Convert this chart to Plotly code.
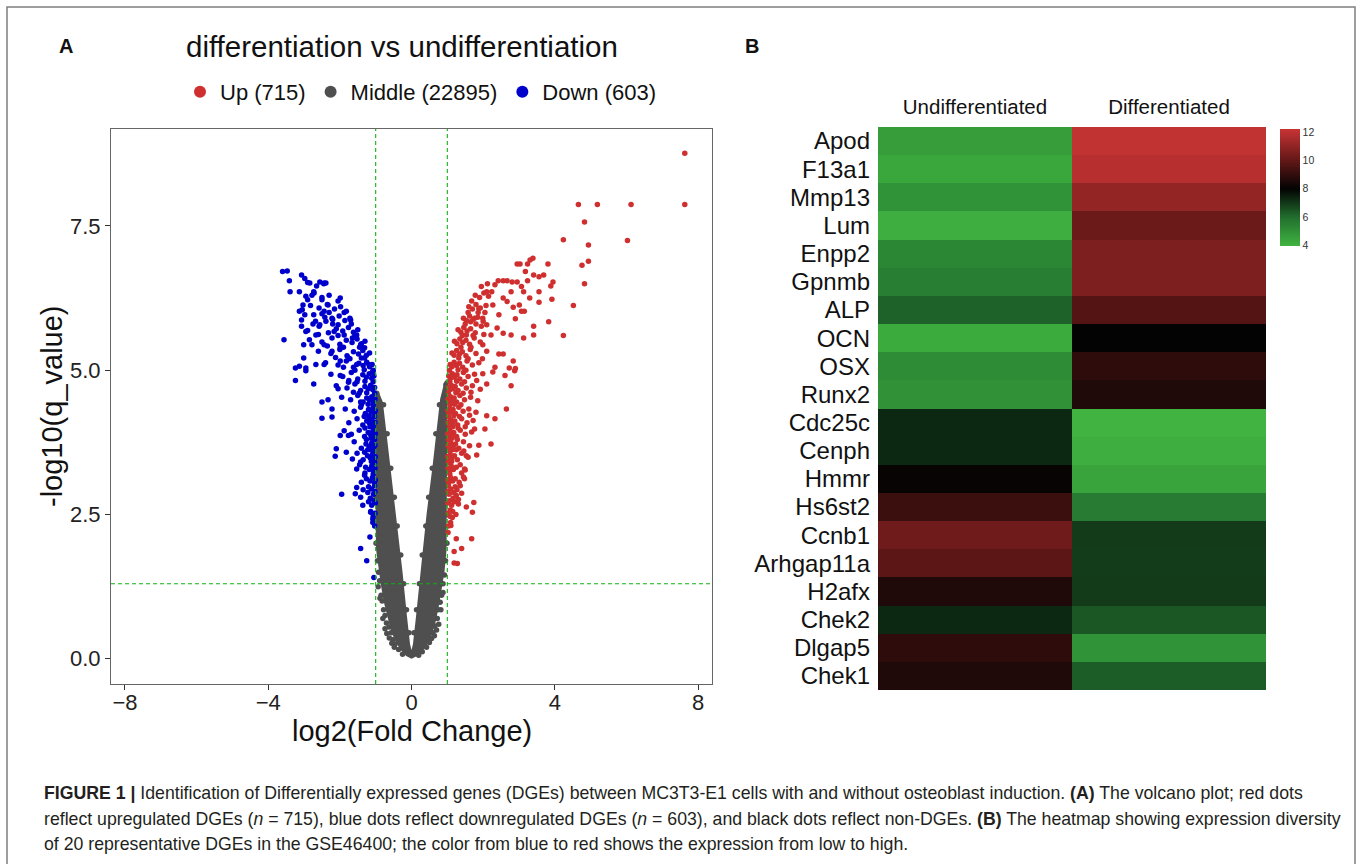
import plotly.graph_objects as go

W, H = 1357, 864
FONT = "Liberation Sans, Arial, Helvetica, sans-serif"

# ---------------- volcano data ----------------
UP_POINTS = [
    (7.63, 8.76), (7.63, 7.87), (6.13, 7.87), (5.19, 7.87), (4.66, 7.87), (4.83, 7.57), (4.24, 7.26),
    (6.03, 7.25), (4.94, 7.17), (4.76, 6.82), (4.94, 6.89), (4.83, 6.50), (4.52, 6.12), (4.24, 5.60),
    (2.95, 6.84), (3.03, 6.84), (3.24, 6.84), (3.31, 6.91), (3.39, 6.94), (3.81, 6.84), (3.18, 6.71),
    (3.41, 6.65), (3.56, 6.62), (3.69, 6.65), (2.42, 6.55), (2.56, 6.55), (2.67, 6.55), (2.81, 6.53),
    (2.95, 6.53), (3.24, 6.55), (3.95, 6.53), (3.89, 6.46), (2.33, 6.48), (2.10, 6.36), (2.24, 6.36),
    (2.78, 6.36), (3.07, 6.45), (3.13, 6.36), (3.56, 6.36), (3.30, 6.25), (3.92, 6.23), (3.56, 6.18),
    (3.01, 6.13), (3.15, 6.02), (2.56, 6.25), (2.67, 6.19), (2.84, 6.09), (3.07, 6.02), (2.27, 6.13),
    (2.44, 5.96), (2.90, 5.89), (3.41, 5.76), (3.83, 5.84), (2.56, 5.64), (2.78, 5.61), (3.13, 5.56),
    (3.41, 5.61), (2.22, 5.61), (2.39, 5.73), (2.10, 5.79), (1.99, 5.90), (1.88, 6.07), (1.76, 5.90),
    (1.65, 5.84), (1.53, 5.61), (2.44, 5.28), (2.56, 5.28), (2.84, 5.16), (2.73, 5.04), (2.90, 5.03),
    (2.33, 5.05), (2.10, 5.33), (1.99, 5.44),
    (2.78, 4.73), (2.65, 4.33), (2.33, 4.16), (2.10, 4.21), (2.05, 3.98), (1.76, 3.98), (2.22, 3.72),
    (1.88, 3.70), (1.82, 3.53), (1.53, 3.52), (1.48, 3.29), (1.48, 3.12), (1.36, 3.00), (1.25, 2.83),
    (1.31, 2.68), (1.74, 2.71), (1.70, 2.54), (1.53, 2.63), (1.14, 2.45), (1.10, 2.31), (1.02, 2.19),
    (1.25, 2.08), (1.68, 2.08), (1.40, 1.91), (1.19, 1.86), (1.19, 1.66), (1.28, 1.65), (2.10, 4.76),
    (2.27, 4.97), (2.61, 4.91), (2.88, 4.99), (1.99, 4.94),
    (1.03, 2.30), (1.09, 2.36),
    (1.02, 2.52), (1.07, 2.47), (1.15, 2.55), (1.24, 2.50),
    (1.01, 2.70), (1.06, 2.74), (1.12, 2.66), (1.20, 2.72), (1.31, 2.76),
    (1.02, 2.90), (1.05, 2.85), (1.10, 2.94), (1.18, 2.88), (1.27, 2.93), (1.40, 2.87),
    (1.01, 3.10), (1.04, 3.05), (1.09, 3.14), (1.15, 3.08), (1.22, 3.12), (1.33, 3.06), (1.45, 3.15),
    (1.02, 3.30), (1.06, 3.26), (1.11, 3.34), (1.17, 3.28), (1.25, 3.32), (1.36, 3.36), (1.50, 3.27),
    (1.01, 3.50), (1.04, 3.46), (1.08, 3.54), (1.13, 3.48), (1.20, 3.52), (1.28, 3.45), (1.40, 3.56), (1.58, 3.49),
    (1.02, 3.70), (1.05, 3.66), (1.10, 3.74), (1.16, 3.68), (1.23, 3.72), (1.32, 3.65), (1.45, 3.76), (1.62, 3.69),
    (1.01, 3.90), (1.04, 3.86), (1.08, 3.94), (1.12, 3.88), (1.18, 3.92), (1.26, 3.85), (1.36, 3.96), (1.50, 3.89),
    (1.68, 3.93), (1.02, 4.10), (1.05, 4.06), (1.09, 4.14), (1.14, 4.08), (1.21, 4.12), (1.29, 4.05), (1.40, 4.16),
    (1.55, 4.09), (1.72, 4.13), (1.01, 4.30), (1.04, 4.26), (1.07, 4.34), (1.11, 4.28), (1.16, 4.32), (1.23, 4.25),
    (1.32, 4.36), (1.44, 4.29), (1.60, 4.33), (1.80, 4.27), (1.02, 4.50), (1.05, 4.46), (1.09, 4.54), (1.13, 4.48),
    (1.19, 4.52), (1.26, 4.45), (1.35, 4.56), (1.48, 4.49), (1.65, 4.53), (1.85, 4.47), (1.03, 4.70), (1.07, 4.66),
    (1.11, 4.74), (1.16, 4.68), (1.22, 4.72), (1.30, 4.65), (1.40, 4.76), (1.53, 4.69), (1.70, 4.73), (1.92, 4.67),
    (1.04, 4.90), (1.09, 4.86), (1.14, 4.94), (1.20, 4.88), (1.27, 4.92), (1.35, 4.85), (1.45, 4.96), (1.58, 4.89),
    (1.76, 4.93), (1.08, 5.10), (1.13, 5.06), (1.19, 5.14), (1.26, 5.08), (1.34, 5.12), (1.43, 5.05), (1.55, 5.16),
    (1.70, 5.09), (1.88, 5.13), (1.13, 5.30), (1.19, 5.26), (1.26, 5.34), (1.34, 5.28), (1.42, 5.32), (1.52, 5.25),
    (1.64, 5.36), (1.80, 5.29), (1.20, 5.50), (1.27, 5.46), (1.35, 5.54), (1.43, 5.48), (1.52, 5.52), (1.62, 5.45),
    (1.75, 5.56), (1.92, 5.49), (1.30, 5.70), (1.38, 5.66), (1.46, 5.74), (1.55, 5.68), (1.65, 5.72), (1.78, 5.65),
    (1.95, 5.76), (1.45, 5.90), (1.53, 5.86), (1.62, 5.94), (1.72, 5.88), (1.85, 5.92), (2.00, 5.85),
    (1.60, 6.10), (1.70, 6.06), (1.80, 6.14), (1.92, 6.08), (2.08, 6.12),
    (1.78, 6.30), (1.90, 6.26), (2.02, 6.34), (2.15, 6.28), (1.95, 6.45), (2.12, 6.50),
    (1.03, 3.00), (1.07, 3.20), (1.03, 3.40), (1.07, 3.60), (1.03, 3.80), (1.07, 4.00), (1.03, 4.20),
    (1.07, 4.40), (1.03, 4.60), (1.07, 4.80), (1.06, 5.00), (1.12, 3.42), (1.14, 3.62), (1.13, 3.82),
    (1.15, 4.02), (1.18, 4.21), (1.20, 4.41), (1.24, 4.61), (1.26, 4.81), (1.30, 5.01), (1.32, 5.21),
    (1.38, 5.40), (1.42, 5.60), (1.50, 5.80), (1.58, 6.00), (1.68, 6.20), (1.25, 3.62), (1.28, 3.80),
    (1.30, 4.00), (1.34, 4.20), (1.38, 4.40), (1.44, 4.60), (1.48, 4.80), (1.52, 5.00), (1.58, 5.20),
    (1.66, 5.40), (1.72, 5.60), (1.80, 5.80), (1.86, 6.00), (1.22, 2.98), (1.16, 2.78), (1.08, 2.58),
    (1.40, 3.22), (1.46, 3.60), (1.50, 4.02), (1.62, 4.22), (1.66, 4.62), (1.82, 4.82), (1.98, 5.20),
    (2.02, 5.62), (2.05, 6.00),
]

DOWN_POINTS = [
    (-3.60, 6.71), (-3.47, 6.72), (-3.41, 6.55), (-3.39, 6.36), (-3.13, 6.36), (-3.07, 6.65), (-2.98, 6.59),
    (-2.84, 6.51), (-2.56, 6.53), (-2.44, 6.51), (-2.39, 6.51), (-2.73, 6.36), (-2.78, 6.30), (-2.90, 6.22),
    (-3.03, 6.13), (-3.13, 6.02), (-3.07, 5.87), (-3.07, 5.76), (-2.95, 5.67), (-3.01, 5.44), (-3.01, 5.21),
    (-3.13, 5.07), (-3.24, 5.04), (-3.56, 5.53), (-1.99, 6.25), (-1.82, 6.02), (-1.70, 5.87), (-2.50, 6.22),
    (-2.33, 6.13), (-2.44, 6.02), (-2.22, 5.90), (-2.73, 5.96), (-2.56, 5.79), (-2.39, 5.85), (-2.16, 5.67),
    (-2.05, 5.79), (-1.88, 5.61), (-1.65, 5.56), (-1.53, 5.61), (-1.42, 5.44), (-1.31, 5.39), (-1.31, 5.21),
    (-1.19, 5.10), (-2.67, 5.61), (-2.78, 5.44), (-2.44, 5.44), (-2.22, 5.33), (-1.99, 5.39), (-1.76, 5.21),
    (-1.99, 5.16), (-2.44, 5.10), (-2.67, 5.10), (-2.95, 5.04), (-1.53, 5.10), (-1.08, 4.98),
    (-3.24, 4.82), (-2.95, 4.99), (-2.73, 4.76), (-2.50, 4.45), (-2.33, 4.49), (-2.22, 4.33), (-2.50, 4.17),
    (-2.22, 4.19), (-1.88, 3.95), (-1.99, 3.87), (-1.76, 3.87), (-2.10, 3.64), (-2.13, 3.51), (-1.82, 3.58),
    (-1.65, 3.46), (-1.42, 3.41), (-1.53, 3.29), (-1.31, 3.18), (-1.53, 2.97), (-1.57, 2.86), (-1.95, 2.85),
    (-1.42, 2.80), (-1.36, 2.66), (-1.14, 2.54), (-1.08, 2.42), (-1.16, 2.11), (-1.42, 1.91), (-1.25, 1.70),
    (-1.05, 1.41), (-1.31, 3.58), (-1.19, 4.16), (-1.42, 4.45), (-2.05, 4.68), (-1.76, 4.79), (-1.99, 4.91),
    (-1.03, 2.30), (-1.08, 2.36), (-1.02, 2.52), (-1.07, 2.47), (-1.14, 2.55),
    (-1.01, 2.70), (-1.05, 2.74), (-1.11, 2.66), (-1.20, 2.72),
    (-1.02, 2.90), (-1.06, 2.85), (-1.12, 2.94), (-1.22, 2.88), (-1.35, 2.93),
    (-1.01, 3.10), (-1.04, 3.05), (-1.09, 3.14), (-1.16, 3.08), (-1.26, 3.12), (-1.40, 3.06),
    (-1.02, 3.30), (-1.06, 3.26), (-1.11, 3.34), (-1.18, 3.28), (-1.28, 3.32), (-1.45, 3.36),
    (-1.01, 3.50), (-1.04, 3.46), (-1.09, 3.54), (-1.15, 3.48), (-1.23, 3.52), (-1.35, 3.45), (-1.52, 3.56),
    (-1.02, 3.70), (-1.06, 3.66), (-1.11, 3.74), (-1.18, 3.68), (-1.27, 3.72), (-1.40, 3.65), (-1.60, 3.76),
    (-1.01, 3.90), (-1.04, 3.86), (-1.08, 3.94), (-1.14, 3.88), (-1.21, 3.92), (-1.31, 3.85), (-1.46, 3.96),
    (-1.68, 3.89), (-1.02, 4.10), (-1.06, 4.06), (-1.11, 4.14), (-1.17, 4.08), (-1.25, 4.12), (-1.36, 4.05),
    (-1.52, 4.16), (-1.75, 4.09), (-1.01, 4.30), (-1.04, 4.26), (-1.08, 4.34), (-1.13, 4.28), (-1.20, 4.32),
    (-1.29, 4.25), (-1.42, 4.36), (-1.60, 4.29), (-1.85, 4.33), (-1.02, 4.50), (-1.06, 4.46), (-1.11, 4.54),
    (-1.17, 4.48), (-1.25, 4.52), (-1.35, 4.45), (-1.50, 4.56), (-1.70, 4.49), (-1.95, 4.53), (-1.03, 4.70),
    (-1.08, 4.66), (-1.14, 4.74), (-1.21, 4.68), (-1.30, 4.72), (-1.42, 4.65), (-1.58, 4.76), (-1.80, 4.69),
    (-2.10, 4.73), (-1.05, 4.90), (-1.11, 4.86), (-1.18, 4.94), (-1.26, 4.88), (-1.36, 4.92), (-1.50, 4.85),
    (-1.68, 4.96), (-1.92, 4.89), (-2.25, 4.93), (-1.10, 5.10), (-1.17, 5.06), (-1.25, 5.14), (-1.35, 5.08),
    (-1.47, 5.12), (-1.62, 5.05), (-1.82, 5.16), (-2.05, 5.09), (-2.40, 5.13), (-1.17, 5.30), (-1.26, 5.26),
    (-1.36, 5.34), (-1.48, 5.28), (-1.62, 5.32), (-1.80, 5.25), (-2.00, 5.36), (-2.25, 5.29), (-2.60, 5.33),
    (-1.30, 5.50), (-1.40, 5.46), (-1.52, 5.54), (-1.66, 5.48), (-1.82, 5.52), (-2.00, 5.45), (-2.22, 5.56),
    (-2.50, 5.49), (-2.85, 5.53), (-1.50, 5.70), (-1.62, 5.66), (-1.76, 5.74), (-1.92, 5.68), (-2.10, 5.72),
    (-2.32, 5.65), (-2.58, 5.76), (-2.90, 5.69), (-1.72, 5.90), (-1.86, 5.86), (-2.02, 5.94), (-2.20, 5.88),
    (-2.42, 5.92), (-2.68, 5.85), (-2.98, 5.96), (-1.98, 6.10), (-2.15, 6.06), (-2.35, 6.14), (-2.58, 6.08),
    (-2.82, 6.12), (-3.05, 6.05), (-2.30, 6.30), (-2.50, 6.26), (-2.72, 6.34), (-2.95, 6.28),
    (-2.45, 6.50), (-2.65, 6.46), (-2.90, 6.52),
    (-1.03, 3.00), (-1.07, 3.20), (-1.03, 3.40), (-1.07, 3.60), (-1.03, 3.80), (-1.07, 4.00), (-1.03, 4.20),
    (-1.07, 4.40), (-1.03, 4.60), (-1.07, 4.80), (-1.07, 5.00), (-1.12, 3.42), (-1.14, 3.62), (-1.13, 3.82),
    (-1.16, 4.02), (-1.18, 4.21), (-1.21, 4.41), (-1.25, 4.61), (-1.30, 4.81), (-1.32, 5.01), (-1.40, 5.21),
    (-1.45, 5.40), (-1.58, 5.60), (-1.68, 5.80), (-1.88, 6.00), (-2.05, 6.20), (-1.22, 3.62), (-1.26, 3.80),
    (-1.30, 4.00), (-1.32, 4.20), (-1.40, 4.40), (-1.46, 4.60), (-1.52, 4.80), (-1.58, 5.00), (-1.72, 5.20),
    (-1.90, 5.40), (-2.05, 5.60), (-2.20, 5.80), (-2.30, 6.00), (-1.20, 2.98), (-1.15, 2.78), (-1.30, 3.22),
    (-1.62, 4.62), (-1.75, 4.82), (-1.90, 5.05), (-2.12, 5.22), (-2.35, 5.42), (-2.60, 5.62), (-2.75, 5.80),
    (-2.50, 5.98),
]

# outline of the dense band of non-significant genes (the grey "V")
MIDDLE_OUTLINE = [
    (0.00, 0.00), (-0.15, 0.05), (-0.30, 0.15), (-0.45, 0.30), (-0.58, 0.50), (-0.68, 0.75), (-0.78, 1.00),
    (-0.86, 1.30), (-0.93, 1.60), (-0.99, 1.90), (-1.00, 2.30), (-1.00, 4.55), (-0.97, 4.65), (-0.90, 4.60),
    (-0.80, 4.45), (-0.60, 3.40), (-0.42, 2.50), (-0.25, 1.50), (-0.12, 0.70), (-0.04, 0.25), (0.00, 0.15),
    (0.04, 0.25), (0.12, 0.70), (0.25, 1.50), (0.42, 2.50), (0.60, 3.40), (0.80, 4.50), (0.92, 4.80),
    (0.98, 4.85), (1.00, 4.70), (1.00, 2.30), (0.98, 1.90), (0.92, 1.50), (0.85, 1.20), (0.76, 0.90),
    (0.66, 0.60), (0.55, 0.38), (0.40, 0.20), (0.20, 0.06), (0.00, 0.00),
]
MIDDLE_POINTS = [
    (-0.99, 2.0), (-0.98, 2.4), (-0.99, 2.8), (-0.98, 3.2), (-0.99, 3.6), (-0.98, 4.0), (-0.99, 4.4),
    (-0.97, 4.6), (-0.95, 1.7), (-0.92, 1.5), (-0.89, 1.35), (-0.85, 1.1), (-0.82, 1.0), (-0.78, 0.85),
    (-0.74, 0.75), (-0.70, 0.62), (-0.63, 0.55), (-0.57, 0.45), (-0.52, 0.33), (-0.46, 0.25), (-0.36, 0.16),
    (-0.25, 0.08), (-0.93, 1.25), (-0.88, 1.05), (-0.80, 0.70), (-0.74, 0.52), (-0.69, 0.44), (-0.62, 0.36),
    (-0.55, 0.27), (-0.48, 0.20), (0.99, 2.0), (0.98, 2.5), (0.99, 3.0), (0.98, 3.5), (0.99, 4.0),
    (0.98, 4.5), (0.96, 4.75), (0.95, 1.7), (0.92, 1.45), (0.88, 1.3), (0.84, 1.1), (0.80, 0.98),
    (0.74, 0.85), (0.72, 0.70), (0.65, 0.57), (0.60, 0.45), (0.56, 0.35), (0.50, 0.28), (0.42, 0.20),
    (0.30, 0.12), (0.20, 0.06), (0.76, 0.60), (0.70, 0.50), (0.64, 0.40), (0.88, 1.15), (0.82, 0.85),
    (-0.78, 4.4), (-0.68, 3.9), (-0.58, 3.3), (-0.48, 2.8), (-0.40, 2.3), (-0.30, 1.8), (-0.22, 1.3),
    (-0.14, 0.85), (-0.07, 0.45), (0.07, 0.45), (0.14, 0.85), (0.22, 1.3), (0.30, 1.8), (0.40, 2.3),
    (0.48, 2.8), (0.58, 3.3), (0.68, 3.9), (0.78, 4.4),
]
FC_CUT = [-1, 1]
Q_CUT = 1.301  # -log10(0.05)
LEGEND_LABELS = ["Up (715)", "Middle (22895)", "Down (603)"]
X_TICKS = [-8, -4, 0, 4, 8]
Y_TICKS = [0, 2.5, 5, 7.5]
Y_TICK_TEXT = ["0.0", "2.5", "5.0", "7.5"]

# ---------------- heatmap data ----------------
GENES = ["Apod", "F13a1", "Mmp13", "Lum", "Enpp2", "Gpnmb", "ALP", "OCN", "OSX", "Runx2",
         "Cdc25c", "Cenph", "Hmmr", "Hs6st2", "Ccnb1", "Arhgap11a", "H2afx", "Chek2", "Dlgap5", "Chek1"]
CONDITIONS = ["Undifferentiated", "Differentiated"]
UNDIFF = [4.6, 4.3, 4.9, 4.1, 5.25, 5.5, 6.2, 4.2, 5.1, 4.95,
          7.3, 7.3, 8.1, 9.2, 10.3, 9.9, 8.6, 7.3, 8.9, 8.6]
DIFF = [12.1, 11.9, 11.1, 10.2, 10.6, 10.6, 9.7, 8.0, 8.9, 8.6,
        3.95, 4.1, 4.4, 5.6, 6.95, 6.9, 6.95, 6.4, 4.9, 6.3]
CB_TICKS = [4, 6, 8, 10, 12]
ZMIN, ZMAX = 3.93, 12.25

RED, GREY, BLUE = "#CF2F2F", "#4F4F4F", "#0000CC"

def px(x):
    return x / W

def py(y):
    return 1 - y / H

fig = go.Figure()

fig.add_trace(go.Scatter(
    x=[p[0] for p in MIDDLE_OUTLINE], y=[p[1] for p in MIDDLE_OUTLINE],
    mode="lines", fill="toself", fillcolor=GREY, line=dict(width=0, color=GREY),
    showlegend=False, hoverinfo="skip"))
fig.add_trace(go.Scatter(
    x=[p[0] for p in MIDDLE_POINTS], y=[p[1] for p in MIDDLE_POINTS],
    mode="markers", marker=dict(size=5.5, color=GREY), showlegend=False))
fig.add_trace(go.Scatter(
    x=[p[0] for p in DOWN_POINTS], y=[p[1] for p in DOWN_POINTS],
    mode="markers", marker=dict(size=5.5, color=BLUE), showlegend=False))
fig.add_trace(go.Scatter(
    x=[p[0] for p in UP_POINTS], y=[p[1] for p in UP_POINTS],
    mode="markers", marker=dict(size=5.5, color=RED), showlegend=False))

# legend entries
for lab, col in zip(LEGEND_LABELS, [RED, GREY, BLUE]):
    fig.add_trace(go.Scatter(x=[None], y=[None], mode="markers", name=lab,
                             marker=dict(size=12, color=col), showlegend=True))

# heatmap
colorscale = [
    [0.0, "#40B440"], [0.24, "#22702F"], [(8 - ZMIN) / (ZMAX - ZMIN), "#030303"],
    [0.76, "#6E1A1A"], [1.0, "#C83434"],
]
fig.add_trace(go.Heatmap(
    z=[[u, d] for u, d in zip(UNDIFF, DIFF)], x=CONDITIONS, y=GENES,
    zmin=ZMIN, zmax=ZMAX, colorscale=colorscale, xaxis="x2", yaxis="y2",
    colorbar=dict(
        x=px(1280), xanchor="left", xpad=0, y=py(129), yanchor="top", ypad=0,
        thickness=20, thicknessmode="pixels", len=117, lenmode="pixels",
        outlinewidth=0, ticks="", tickvals=CB_TICKS,
        tickfont=dict(size=10.5, color="#333333", family=FONT)),
))

axis_common = dict(showgrid=False, zeroline=False, ticks="outside", ticklen=5, tickwidth=1,
                   tickcolor="#333333", showline=True, linecolor="#666666", linewidth=1,
                   mirror=True, tickfont=dict(size=22, color="#222222", family=FONT))

fig.update_layout(
    width=W, height=H, margin=dict(l=0, r=0, t=0, b=0),
    paper_bgcolor="white", plot_bgcolor="white",
    font=dict(family=FONT, color="#111111"),
    xaxis=dict(domain=[px(111), px(712)], range=[-8.39, 8.39], tickvals=X_TICKS,
               ticklabelstandoff=-6, **axis_common),
    yaxis=dict(domain=[py(684), py(129)], range=[-0.437, 9.18], tickvals=Y_TICKS,
               ticktext=Y_TICK_TEXT, **axis_common),
    xaxis2=dict(domain=[px(878), px(1266)], anchor="y2", side="top", showgrid=False,
                zeroline=False, showline=False, ticks="", ticklabelstandoff=8,
                tickmode="array", tickvals=CONDITIONS, ticktext=CONDITIONS,
                tickfont=dict(size=20.5, color="#111111", family=FONT)),
    yaxis2=dict(domain=[py(690), py(127)], anchor="x2", autorange="reversed", showgrid=False,
                zeroline=False, showline=False, ticks="", ticklabelstandoff=7,
                tickmode="array", tickvals=GENES, ticktext=GENES,
                tickfont=dict(size=24, color="#111111", family=FONT)),
    legend=dict(orientation="h", x=px(180), y=py(92), xanchor="left", yanchor="middle",
                font=dict(size=22, color="#111111", family=FONT), bgcolor="rgba(0,0,0,0)",
                itemsizing="trace"),
    title=dict(text="differentiation vs undifferentiation", x=px(186), xanchor="left",
               y=py(47), yanchor="middle", font=dict(size=29.5, color="#111111", family=FONT)),
)

# threshold lines
dash_style = dict(color="#12B012", width=1.1, dash="4px,3px")
for v in FC_CUT:
    fig.add_shape(type="line", xref="x", yref="y domain", x0=v, x1=v, y0=0, y1=1, line=dash_style)
fig.add_shape(type="line", xref="x domain", yref="y", x0=0, x1=1, y0=Q_CUT, y1=Q_CUT, line=dash_style)

# outer figure frame
fig.add_shape(type="path", xref="paper", yref="paper",
              path=f"M {px(7)} -0.05 L {px(7)} {py(7)} L {px(1355)} {py(7)} L {px(1355)} -0.05",
              line=dict(color="#7F7F7F", width=1.5))

ann = [
    dict(text="<b>A</b>", x=px(66), y=py(46), font=dict(size=20)),
    dict(text="<b>B</b>", x=px(752), y=py(46), font=dict(size=20)),
    dict(text="log2(Fold Change)", x=px(411.5), y=py(731), font=dict(size=29)),
    dict(text="-log10(q_value)", x=px(52), y=py(406), font=dict(size=29), textangle=-90),
]
for a in ann:
    fig.add_annotation(xref="paper", yref="paper", showarrow=False, xanchor="center",
                       yanchor="middle", **{k: v for k, v in a.items() if k != "font"},
                       font=dict(family=FONT, color="#111111", **a["font"]))

CAPTION = [
    "<b>FIGURE 1 |</b> Identification of Differentially expressed genes (DGEs) between MC3T3-E1 cells "
    "with and without osteoblast induction. <b>(A)</b> The volcano plot; red dots",
    "reflect upregulated DGEs (<i>n</i> = 715), blue dots reflect downregulated DGEs (<i>n</i> = 603), "
    "and black dots reflect non-DGEs. <b>(B)</b> The heatmap showing expression diversity",
    "of 20 representative DGEs in the GSE46400; the color from blue to red shows the expression "
    "from low to high.",
]
for line, yy in zip(CAPTION, [793, 818.5, 844]):
    fig.add_annotation(xref="paper", yref="paper", x=px(42), y=py(yy), xanchor="left",
                       yanchor="middle", showarrow=False, text=line,
                       font=dict(family=FONT, size=17.7, color="#231F20"))

fig.write_html("out.html")
